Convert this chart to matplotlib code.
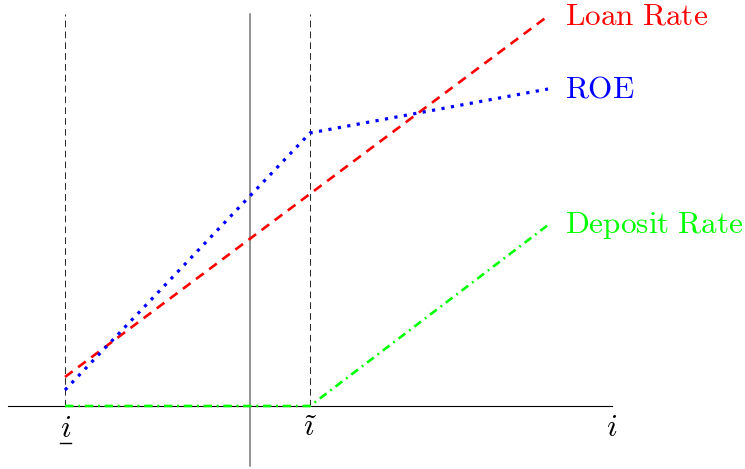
import matplotlib
matplotlib.use("Agg")
import matplotlib.pyplot as plt

plt.rcParams['mathtext.fontset'] = 'cm'

# Data (arbitrary units; vertical axis at x = 0)
i_low = -3.7
i_tilde = 1.2
i_end = 5.96
x_axis_range = (-4.84, 7.24)
y_axis_range = (-1.2, 7.84)

loan_x = [i_low, i_end]
loan_y = [0.58, 7.8]

roe_x = [i_low, i_tilde, i_end]
roe_y = [0.32, 5.46, 6.34]

dep_x = [i_low, i_tilde, i_end]
dep_y = [0.0, 0.0, 3.62]

labels = ["Loan Rate", "ROE", "Deposit Rate"]
colors = ["#ff0000", "#0000ff", "#00ff00"]

fig = plt.figure(figsize=(7.45, 4.69), dpi=100)
ax = fig.add_axes([0, 0, 1, 1])
ax.set_xlim(-5, 9.9)
ax.set_ylim(-1.26, 8.12)
ax.axis('off')

# axes
ax.plot(x_axis_range, [0, 0], color='black', lw=0.8, zorder=1)
ax.plot([0, 0], y_axis_range, color='#777777', lw=1.1, zorder=1)

# dashed guides
for xv in (i_low, i_tilde):
    ax.plot([xv, xv], [0, y_axis_range[1]], color='black', lw=0.6,
            linestyle=(0, (8, 5)), zorder=1)

ax.plot(loan_x, loan_y, color=colors[0], lw=1.9, linestyle=(0, (3.6, 2.6)), zorder=3)
ax.plot(roe_x, roe_y, color=colors[1], lw=2.3, linestyle=(0, (1, 2.0)), zorder=3)
ax.plot(dep_x, dep_y, color=colors[2], lw=1.9, linestyle=(0, (3.2, 1.8, 0.7, 1.8)), zorder=3)

ends_y = [loan_y[-1], roe_y[-1], dep_y[-1]]
for lab, c, yv in zip(labels, colors, ends_y):
    ax.text(i_end + 0.34, yv, r'$\mathrm{' + lab.replace(' ', r'\ ') + '}$',
            color=c, fontsize=22.5, ha='left', va='center')

# tick labels
ax.text(i_low + 0.01, -0.44, r'$i$', fontsize=22.5, ha='center', va='center')
ax.plot([i_low - 0.11, i_low + 0.12], [-0.74, -0.74], color='black', lw=1.0)
ax.text(i_tilde, -0.42, r'$\tilde{\imath}$', fontsize=22.5, ha='center', va='center')
ax.text(x_axis_range[1], -0.42, r'$i$', fontsize=22.5, ha='center', va='center')

fig.savefig("out.png", dpi=100)
